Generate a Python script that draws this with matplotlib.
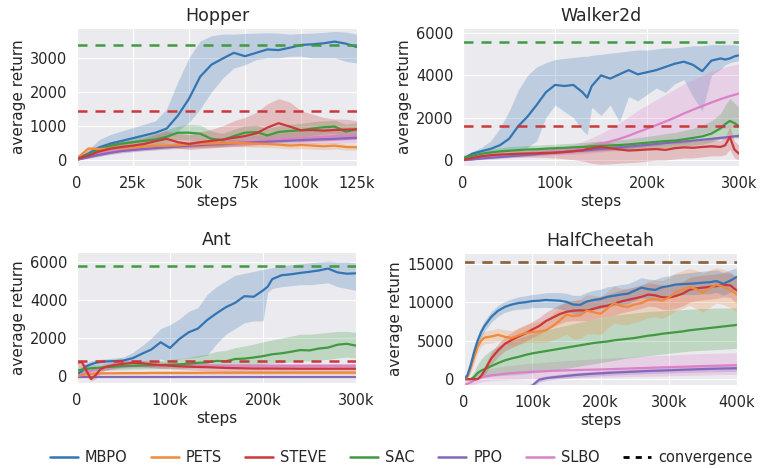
import matplotlib
matplotlib.use("Agg")
import matplotlib.pyplot as plt
import seaborn as sns
from matplotlib.lines import Line2D
from matplotlib.ticker import FuncFormatter

# ---------------- data ----------------
# Hopper
hop_steps = [0,5,10,15,20,25,30,35,40,45,50,55,60,65,70,75,80,85,90,95,100,105,110,115,120,125]
hop_mbpo = [30,180,370,480,560,640,720,800,920,1300,1800,2450,2800,2980,3150,3050,3150,3250,3230,3300,3380,3400,3430,3480,3420,3320]
hop_mbpo_hi = [60,300,600,750,850,950,1050,1150,1500,2300,3000,3500,3650,3700,3700,3720,3730,3740,3730,3700,3720,3730,3750,3780,3760,3700]
hop_mbpo_lo = [0,80,250,350,430,500,570,630,680,850,1100,1500,2000,2400,2700,2800,2950,3000,3000,3050,3050,3000,3000,3000,2900,2850]
hop_pets = [50,330,320,330,350,370,390,410,420,430,450,470,480,490,500,490,480,470,450,420,440,420,400,420,380,370]
hop_pets_hi = [80,400,400,420,440,460,480,500,520,530,550,570,580,590,600,590,580,570,550,520,540,520,500,510,470,460]
hop_pets_lo = [20,250,250,250,270,290,300,320,330,340,350,360,370,380,390,380,370,360,350,320,330,320,300,320,290,280]
hop_steve = [40,120,250,330,380,420,470,550,620,520,470,520,560,600,650,700,780,950,1080,980,870,880,860,880,890,900]
hop_steve_hi = [80,250,400,480,530,580,640,750,850,780,740,820,900,1000,1150,1250,1400,1650,1800,1700,1450,1350,1250,1200,1200,1150]
hop_steve_lo = [0,50,120,200,250,280,320,380,420,350,300,330,350,380,400,420,450,550,650,600,550,560,560,580,600,620]
hop_sac = [30,150,300,420,480,520,560,600,680,800,800,770,620,580,700,800,820,720,820,850,870,920,960,980,830,900]
hop_sac_hi = [60,250,420,540,600,650,700,780,880,1000,1050,1020,850,780,900,1000,1020,920,1020,1050,1070,1120,1150,1170,1050,1100]
hop_sac_lo = [0,80,200,300,360,390,420,450,500,600,580,550,420,400,500,600,620,520,620,650,670,720,760,780,620,700]
hop_ppo = [0,80,150,210,260,290,320,345,370,395,415,435,455,475,490,505,520,535,550,565,580,595,610,620,635,650]
hop_ppo_hi = [20,130,210,270,320,350,380,405,430,455,475,495,515,535,550,565,580,595,610,625,640,655,670,680,695,710]
hop_ppo_lo = [0,40,100,160,210,240,270,295,320,345,365,385,405,425,440,455,470,485,500,515,530,545,560,570,585,600]
hop_slbo = [0,100,180,240,280,310,340,365,390,415,440,460,480,500,520,540,560,580,600,620,640,660,680,700,710,720]
hop_slbo_hi = [20,160,260,320,360,390,420,450,480,510,540,570,600,630,660,690,720,750,780,810,840,870,900,930,950,970]
hop_slbo_lo = [0,60,120,170,210,240,270,290,310,330,350,360,370,380,390,400,410,420,430,440,450,460,470,480,490,500]
hop_conv_sac = 3380
hop_conv_steve = 1440

# Walker2d
wal_steps = [0,10,20,30,40,50,60,70,80,90,100,110,120,130,135,140,150,160,170,180,190,200,210,220,230,240,250,260,270,280,285,290,295,300]
wal_mbpo = [50,300,420,530,700,1000,1600,2050,2600,3200,3550,3500,3550,3200,2950,3500,4000,3850,4050,4250,4050,4150,4250,4400,4550,4650,4500,4200,4700,4800,4750,4800,4900,4950]
wal_mbpo_hi = [150,400,600,900,1500,2300,3300,4000,4400,4600,4750,4800,4850,4900,4900,4950,5000,5050,5100,5150,5200,5200,5250,5300,5300,5350,5400,5400,5450,5450,5450,5450,5450,5400]
wal_mbpo_lo = [0,200,300,350,400,450,500,600,900,2000,2600,2300,2000,1400,1200,2500,2100,2600,1800,3000,2800,3100,3400,3200,3600,3800,3000,2300,4000,4300,4500,4600,4650,4700]
wal_slbo = [0,60,110,160,200,240,270,300,330,360,390,430,480,560,600,650,750,880,1000,1150,1320,1480,1650,1820,2000,2200,2380,2550,2720,2880,2950,3020,3080,3150]
wal_slbo_hi = [50,120,180,240,290,330,370,410,450,500,560,640,740,880,960,1050,1250,1500,1750,2050,2350,2600,2850,3100,3350,3600,3800,4000,4200,4350,4400,4450,4500,4550]
wal_slbo_lo = [0,20,60,100,130,160,190,210,230,250,260,270,280,300,320,340,380,420,480,550,620,700,780,870,960,1050,1150,1250,1350,1450,1500,1550,1600,1650]
wal_sac = [100,200,300,360,410,440,470,500,510,540,560,580,600,620,630,650,670,690,710,740,780,820,860,900,920,980,1050,1120,1250,1500,1700,1850,1750,1600]
wal_sac_hi = [250,350,460,530,590,630,660,690,700,730,750,780,800,830,840,870,900,930,960,1000,1060,1120,1180,1250,1300,1400,1500,1650,1850,2200,2600,2900,2700,2500]
wal_sac_lo = [0,80,160,210,250,280,300,320,330,350,360,380,400,410,420,430,440,460,470,490,510,540,570,600,620,650,700,750,850,1000,1150,1250,1100,1000]
wal_ppo = [0,30,70,110,140,175,210,245,280,315,350,385,420,455,470,490,525,560,600,640,680,720,760,800,840,880,920,960,1000,1050,1070,1100,1120,1150]
wal_ppo_hi = [40,90,140,180,220,255,290,325,360,395,430,465,500,535,550,570,605,640,680,720,760,800,840,880,920,960,1000,1040,1080,1130,1150,1180,1200,1230]
wal_ppo_lo = [0,0,20,40,70,100,130,165,200,235,270,305,340,375,390,410,445,480,520,560,600,640,680,720,760,800,840,880,920,970,990,1020,1040,1070]
wal_steve = [0,100,180,230,260,280,300,310,320,340,350,380,420,460,520,550,620,560,500,450,470,500,520,480,560,600,580,620,650,620,700,1100,500,300]
wal_steve_hi = [50,200,300,360,400,430,460,480,500,530,560,600,650,700,760,800,880,820,760,700,720,750,780,740,820,880,860,900,940,920,1100,1600,900,700]
wal_steve_lo = [0,20,80,120,140,150,150,140,130,120,100,60,20,-50,-100,-150,-200,-180,-150,-120,-100,-50,0,0,50,100,100,150,200,200,250,500,100,0]
wal_conv_sac = 5560
wal_conv_steve = 1600

# Ant
ant_steps = [0,5,10,15,20,25,30,40,50,60,70,80,90,100,110,120,130,140,150,160,170,180,190,200,205,210,220,230,240,250,260,270,280,290,300]
ant_mbpo = [100,250,520,620,700,740,770,790,820,945,1180,1400,1780,1480,1950,2300,2500,2950,3300,3620,3850,4200,4170,4500,4700,5100,5300,5350,5420,5480,5550,5650,5450,5380,5400]
ant_mbpo_hi = [300,450,700,800,850,880,900,950,1000,1250,1600,2000,2500,2700,3000,3400,3600,4300,4700,5000,5300,5400,5500,5600,5650,5700,5800,5850,5900,5950,6000,6050,6000,6000,5950]
ant_mbpo_lo = [0,80,350,450,550,600,620,650,650,700,750,800,900,800,900,950,1000,1100,1700,2200,2500,2800,2900,2900,4400,4600,4700,4750,4800,4800,4850,4900,4700,4600,4500]
ant_sac = [300,340,380,410,430,450,470,500,530,550,560,570,580,600,620,650,700,720,800,780,900,920,980,1050,1100,1150,1200,1280,1370,1350,1450,1500,1650,1700,1600]
ant_sac_hi = [450,500,550,580,600,620,640,680,720,750,780,800,830,870,920,980,1080,1150,1300,1350,1500,1580,1680,1800,1850,1900,2000,2100,2200,2200,2250,2300,2350,2350,2300]
ant_sac_lo = [150,180,220,250,270,290,300,320,340,360,370,380,390,400,400,420,450,470,500,480,550,560,580,620,650,680,700,750,800,800,850,880,950,1000,950]
ant_steve = [700,750,300,-150,50,350,480,580,650,700,680,620,580,550,520,500,480,470,450,430,420,410,400,400,400,400,395,395,390,390,390,390,390,390,390]
ant_steve_hi = [800,850,600,200,300,550,650,750,800,850,830,780,750,720,700,680,660,650,630,600,590,580,570,560,560,560,550,550,550,550,550,550,550,550,550]
ant_steve_lo = [500,400,0,-250,-150,150,300,400,480,520,500,450,400,380,350,330,300,290,270,260,250,240,230,230,230,230,220,220,220,220,220,220,220,220,220]
ant_pets = [0,50,100,120,130,140,150,150,160,160,160,170,170,170,170,170,170,180,180,180,180,180,180,180,180,180,180,180,180,180,180,180,180,180,180]
ant_pets_hi = [20,120,180,210,220,230,240,250,260,260,260,270,270,270,270,270,270,280,280,280,280,280,280,280,280,280,280,280,280,280,280,280,280,280,280]
ant_pets_lo = [0,0,30,50,60,60,70,70,70,70,70,80,80,80,80,80,80,80,80,80,80,80,80,80,80,80,80,80,80,80,80,80,80,80,80]
ant_ppo = [-50,-50,-50,-50,-50,-50,-50,-50,-50,-50,-50,-50,-50,-50,-50,-50,-50,-50,-50,-50,-50,-50,-50,-50,-50,-50,-50,-50,-50,-50,-50,-50,-50,-50,-50]
ant_slbo = [0,100,200,280,340,380,420,470,500,520,530,540,540,550,550,550,550,550,550,550,550,550,550,550,550,550,550,550,550,550,550,550,550,550,550]
ant_slbo_hi = [50,180,300,380,440,480,520,570,600,620,630,640,640,650,650,650,650,650,650,650,650,650,650,650,650,650,650,650,650,650,650,650,650,650,650]
ant_slbo_lo = [0,40,120,190,250,290,330,380,410,430,440,450,450,460,460,460,460,460,460,460,460,460,460,460,460,460,460,460,460,460,460,460,460,460,460]
ant_conv_sac = 5800
ant_conv_steve = 800

# HalfCheetah
hc_steps = [0,5,10,15,20,25,30,40,50,60,70,80,90,100,110,120,130,140,150,160,170,180,190,200,210,220,230,240,250,260,270,280,290,300,310,320,330,340,350,360,370,380,390,400]
hc_mbpo = [0,500,1900,3600,5000,6100,6900,8100,8900,9400,9700,9900,10000,10150,10200,10300,10250,10200,10050,9700,9650,10100,10300,10420,10700,10850,11000,11100,11500,11900,11700,11600,11950,12100,12300,12350,12400,12450,12550,12600,12750,12400,12800,13300]
hc_mbpo_hi = [200,900,2500,4300,5700,6800,7600,8800,9600,10100,10450,10700,10850,11000,11100,11250,11250,11250,11150,10900,10900,11300,11550,11700,12000,12150,12300,12400,12800,13200,13000,12950,13300,13450,13650,13750,13850,13950,14050,14100,14200,13900,14200,14500]
hc_mbpo_lo = [0,200,1300,2900,4300,5400,6200,7400,8200,8700,8950,9100,9150,9300,9300,9350,9250,9150,8950,8500,8400,8900,9050,9150,9400,9550,9700,9800,10200,10600,10400,10250,10600,10750,10950,11000,11000,11000,11100,11100,11300,10900,11300,11800]
hc_pets = [0,300,1500,2900,4200,5000,5400,5550,5750,5500,5350,5700,6000,6100,6200,6350,6900,7600,8400,8200,8300,8900,8700,8500,9200,9900,9500,9400,9700,9900,10300,10400,10200,10600,11300,11600,12000,11700,11250,11800,12300,12000,11600,11000]
hc_pets_hi = [100,700,2200,3700,5000,5800,6200,6400,6600,6400,6300,6700,7100,7300,7500,7800,8500,9400,10200,10200,10400,11000,10900,10700,11400,12100,11800,11700,12000,12300,12700,12900,12800,13200,13800,14100,14400,14200,13800,14200,14500,14300,13900,13300]
hc_pets_lo = [0,0,800,2100,3400,4200,4600,4700,4900,4600,4400,4600,4800,4800,4800,4800,5100,5400,5900,5200,5300,5900,5900,5800,6600,7300,7100,7100,7400,7600,8000,8100,7900,8300,8900,9200,9600,9200,8700,9300,9900,9700,9300,8700]
hc_steve = [0,0,0,0,0,400,1100,2700,3750,4600,5100,5550,5950,6450,6900,7550,8000,8450,8750,8900,8950,8900,9150,9400,9550,9800,10100,10300,10500,10700,11000,10900,10650,10600,10800,11100,11600,11800,11900,12000,12100,12250,12200,11500]
hc_steve_hi = [0,0,0,0,200,800,1700,3500,4600,5500,6100,6600,7000,7500,8000,8700,9200,9700,10000,10200,10300,10200,10500,10800,11000,11300,11600,11800,12000,12200,12500,12400,12200,12200,12400,12700,13200,13400,13500,13600,13700,13800,13800,13200]
hc_steve_lo = [0,0,0,0,0,100,500,1900,2900,3700,4100,4500,4900,5400,5800,6400,6800,7200,7500,7600,7600,7600,7800,8000,8100,8300,8600,8800,9000,9200,9500,9400,9100,9000,9200,9500,10000,10200,10300,10400,10500,10700,10600,9800]
hc_sac = [0,0,0,300,800,1100,1300,1700,2100,2450,2700,2900,3150,3350,3500,3650,3800,3950,4100,4250,4400,4550,4700,4800,4900,5050,5150,5250,5350,5500,5650,5750,5900,6000,6100,6200,6350,6450,6550,6650,6750,6850,6950,7050]
hc_sac_hi = [0,0,300,1000,1900,2600,3100,3800,4300,4700,5000,5300,5600,5900,6100,6400,6600,6800,7000,7200,7400,7600,7800,7950,8100,8300,8400,8500,8600,8700,8800,8850,8900,8950,9000,9050,9100,9150,9200,9200,9250,9250,9250,9300]
hc_sac_lo = [0,0,0,0,100,200,250,350,450,500,550,600,700,800,900,1000,1100,1250,1400,1550,1700,1850,2000,2150,2300,2450,2600,2750,2850,2950,3050,3150,3250,3350,3450,3550,3650,3700,3750,3800,3850,3900,3950,4000]
hc_ppo = [-2500,-2450,-2400,-2350,-2300,-2250,-2200,-2050,-1900,-1750,-1600,-1450,-1250,-850,-80,120,230,330,420,510,590,650,710,760,810,860,900,940,980,1020,1060,1090,1120,1150,1190,1220,1250,1280,1310,1340,1360,1380,1400,1420]
hc_ppo_hi = [-2100,-2050,-2000,-1950,-1900,-1850,-1800,-1650,-1500,-1350,-1200,-1050,-850,-450,250,420,530,640,730,820,900,960,1020,1070,1130,1180,1230,1270,1310,1360,1400,1440,1480,1510,1550,1590,1620,1660,1690,1720,1750,1780,1800,1830]
hc_ppo_lo = [-2900,-2850,-2800,-2750,-2700,-2650,-2600,-2450,-2300,-2150,-2000,-1850,-1650,-1250,-400,-180,-70,30,110,200,280,340,400,450,490,540,570,610,650,680,720,740,760,790,830,850,880,900,930,960,970,980,1000,1010]
hc_slbo = [-800,-600,-400,-150,50,200,330,500,600,700,780,850,910,960,1000,1040,1080,1110,1140,1170,1200,1220,1240,1260,1290,1320,1350,1380,1410,1440,1470,1500,1530,1560,1590,1610,1640,1670,1700,1720,1750,1770,1800,1820]
hc_slbo_hi = [-300,-100,200,500,800,1000,1150,1400,1550,1700,1800,1900,2000,2080,2150,2220,2290,2350,2410,2470,2530,2580,2630,2680,2730,2780,2830,2880,2930,2980,3020,3060,3100,3140,3180,3220,3260,3290,3320,3350,3380,3400,3420,3440]
hc_slbo_lo = [-1300,-1100,-900,-700,-500,-400,-300,-200,-150,-100,-60,-20,10,40,60,80,100,120,140,160,180,200,220,240,260,280,300,320,340,360,380,400,420,440,460,480,500,520,540,560,580,600,620,640]
hc_conv_sac = 15200
hc_conv_steve = 15200

algos = ["MBPO", "PETS", "STEVE", "SAC", "PPO", "SLBO"]

# ---------------- style ----------------
sns.set_style("darkgrid", {"axes.facecolor": "#ebebef", "grid.color": "white"})
plt.rcParams["font.family"] = ["DejaVu Sans"]

colors = {"MBPO": "#3474b2", "PETS": "#ef8a3a", "STEVE": "#c9383a",
          "SAC": "#3f9a40", "PPO": "#8466bb", "SLBO": "#dc80c8"}

fig = plt.figure(figsize=(7.6, 4.68), dpi=100)

def kfmt(v, pos):
    return "0" if v == 0 else f"{int(round(v / 1000))}k"

def panel(rect, title, steps, series, conv, xticks, yticks, ylim, blend=False):
    ax = fig.add_axes(rect)
    x = [s * 1000 for s in steps]
    for name, (mean, lo, hi) in series:
        if lo is not None:
            ax.fill_between(x, lo, hi, color=colors[name], alpha=0.25, lw=0)
    for name, (mean, lo, hi) in series:
        ax.plot(x, mean, color=colors[name], lw=1.6)
    for i, (name, val) in enumerate(conv):
        a = 0.6 if (blend and i > 0) else 1.0
        ax.axhline(val, color=colors[name], lw=1.8, ls=(0, (4, 3.2)), alpha=a)
    ax.set_xlim(0, xticks[-1])
    ax.set_ylim(*ylim)
    ax.set_xticks(xticks)
    ax.set_yticks(yticks)
    ax.xaxis.set_major_formatter(FuncFormatter(kfmt))
    ax.tick_params(labelsize=10.5, pad=3.5)
    ax.set_title(title, fontsize=12.5, pad=5)
    ax.set_xlabel("steps", fontsize=11, labelpad=2)
    ax.set_ylabel("average return", fontsize=11, labelpad=3)
    return ax

panel([77/760, 1-166/468, 280/760, 138/468], "Hopper", hop_steps,
      [("MBPO", (hop_mbpo, hop_mbpo_lo, hop_mbpo_hi)),
       ("SLBO", (hop_slbo, hop_slbo_lo, hop_slbo_hi)),
       ("PPO", (hop_ppo, hop_ppo_lo, hop_ppo_hi)),
       ("SAC", (hop_sac, hop_sac_lo, hop_sac_hi)),
       ("PETS", (hop_pets, hop_pets_lo, hop_pets_hi)),
       ("STEVE", (hop_steve, hop_steve_lo, hop_steve_hi))],
      [("SAC", hop_conv_sac), ("STEVE", hop_conv_steve)],
      [0, 25000, 50000, 75000, 100000, 125000], [0, 1000, 2000, 3000], (-180, 3880))

panel([463/760, 1-166/468, 276/760, 138/468], "Walker2d", wal_steps,
      [("MBPO", (wal_mbpo, wal_mbpo_lo, wal_mbpo_hi)),
       ("SLBO", (wal_slbo, wal_slbo_lo, wal_slbo_hi)),
       ("PPO", (wal_ppo, wal_ppo_lo, wal_ppo_hi)),
       ("SAC", (wal_sac, wal_sac_lo, wal_sac_hi)),
       ("STEVE", (wal_steve, wal_steve_lo, wal_steve_hi))],
      [("SAC", wal_conv_sac), ("STEVE", wal_conv_steve)],
      [0, 100000, 200000, 300000], [0, 2000, 4000, 6000], (-280, 6240))

panel([77/760, 1-383/468, 279/760, 131/468], "Ant", ant_steps,
      [("MBPO", (ant_mbpo, ant_mbpo_lo, ant_mbpo_hi)),
       ("SLBO", (ant_slbo, ant_slbo_lo, ant_slbo_hi)),
       ("PPO", (ant_ppo, None, None)),
       ("PETS", (ant_pets, ant_pets_lo, ant_pets_hi)),
       ("SAC", (ant_sac, ant_sac_lo, ant_sac_hi)),
       ("STEVE", (ant_steve, ant_steve_lo, ant_steve_hi))],
      [("SAC", ant_conv_sac), ("STEVE", ant_conv_steve)],
      [0, 100000, 200000, 300000], [0, 2000, 4000, 6000], (-360, 6520))

panel([464/760, 1-385/468, 273/760, 132/468], "HalfCheetah", hc_steps,
      [("SLBO", (hc_slbo, hc_slbo_lo, hc_slbo_hi)),
       ("PPO", (hc_ppo, hc_ppo_lo, hc_ppo_hi)),
       ("SAC", (hc_sac, hc_sac_lo, hc_sac_hi)),
       ("STEVE", (hc_steve, hc_steve_lo, hc_steve_hi)),
       ("PETS", (hc_pets, hc_pets_lo, hc_pets_hi)),
       ("MBPO", (hc_mbpo, hc_mbpo_lo, hc_mbpo_hi))],
      [("SAC", hc_conv_sac), ("STEVE", hc_conv_steve)],
      [0, 100000, 200000, 300000, 400000], [0, 5000, 10000, 15000], (-760, 16400),
      blend=True)

handles = [Line2D([], [], color=colors[a], lw=1.8) for a in algos]
handles.append(Line2D([], [], color="black", lw=2.0, ls=(0, (2.2, 2.2))))
labels = algos + ["convergence"]
fig.legend(handles, labels, loc="center", bbox_to_anchor=(401/760, 0.022), ncol=7,
           frameon=False, handlelength=1.9, handletextpad=0.5, columnspacing=1.6,
           prop={"family": "DejaVu Sans", "size": 10.5})

fig.savefig("out.png", dpi=100)
